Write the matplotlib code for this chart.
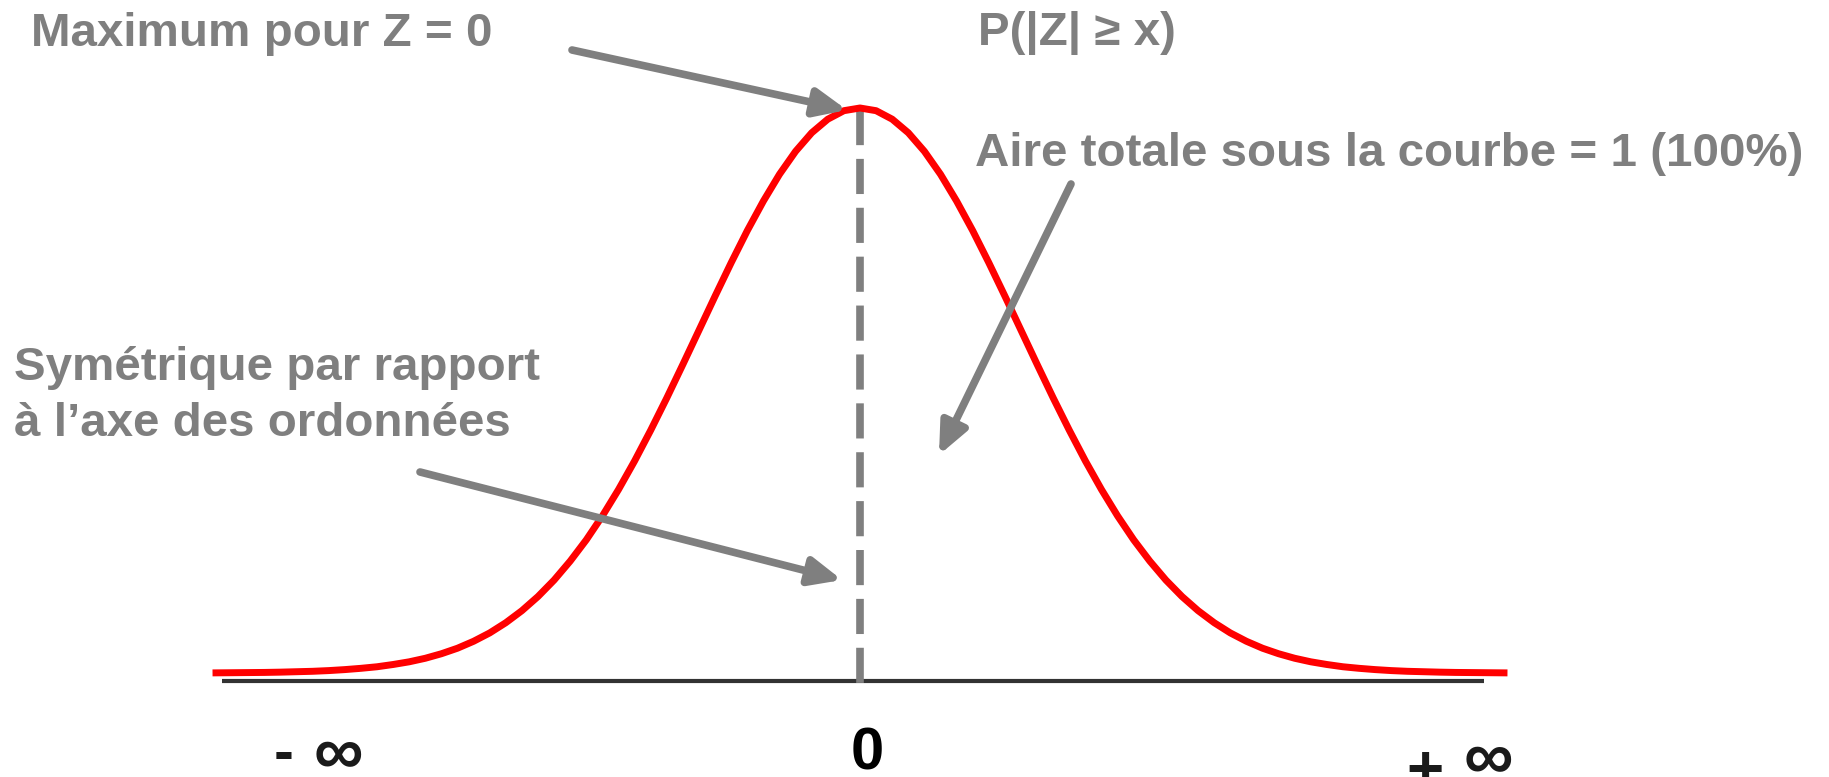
import matplotlib
matplotlib.use("Agg")
import matplotlib.pyplot as plt
import numpy as np

# ---- data (standard normal density, right half; curve is symmetric)
z_half = [0.0, 0.1, 0.2, 0.3, 0.4, 0.5, 0.6, 0.7, 0.8, 0.9, 1.0, 1.1, 1.2, 1.3, 1.4,
          1.5, 1.6, 1.7, 1.8, 1.9, 2.0, 2.1, 2.2, 2.3, 2.4, 2.5, 2.6, 2.7, 2.8, 2.9,
          3.0, 3.1, 3.2, 3.3, 3.4, 3.5, 3.6, 3.7, 3.8, 3.9, 4.0]
dens_half = [0.3989, 0.3970, 0.3910, 0.3814, 0.3683, 0.3521, 0.3332, 0.3123, 0.2897,
             0.2661, 0.2420, 0.2179, 0.1942, 0.1714, 0.1497, 0.1295, 0.1109, 0.0940,
             0.0790, 0.0656, 0.0540, 0.0440, 0.0355, 0.0283, 0.0224, 0.0175, 0.0136,
             0.0104, 0.0079, 0.0060, 0.0044, 0.0033, 0.0024, 0.0017, 0.0012, 0.0009,
             0.0006, 0.0004, 0.0003, 0.0002, 0.0001]
z_vals = [-v for v in z_half[:0:-1]] + z_half
dens_vals = dens_half[:0:-1] + dens_half

axis_labels = ["0"]
annotation_texts = ["Maximum pour Z = 0", "P(|Z| \u2265 x)",
                    "Aire totale sous la courbe = 1 (100%)",
                    "Sym\u00e9trique par rapport\n\u00e0 l\u2019axe des ordonn\u00e9es"]

# ---- layout
W, H = 1829, 777
DPI = 100
fig = plt.figure(figsize=(W / DPI, H / DPI), dpi=DPI)
fig.patch.set_facecolor("white")
ax = fig.add_axes([0, 0, 1, 1])
ax.set_axis_off()

x0_px, sig_px = 860, 161          # pixel of z=0, pixels per unit z
base_px, peak_px = 673, 108       # pixel rows (from top) of density 0 and of the peak
ypu = (base_px - peak_px) / max(dens_vals)
ax.set_xlim(-x0_px / sig_px, (W - x0_px) / sig_px)
ax.set_ylim(-(H - base_px) / ypu, base_px / ypu)


def fp(x, y):
    return (x / W, 1 - y / H)


GREY = "#7f7f7f"
FONT = "Liberation Sans"

# baseline axis
ax.plot([(222 - x0_px) / sig_px, (1484 - x0_px) / sig_px], [-8 / ypu, -8 / ypu],
        color="#333333", lw=3.0, solid_capstyle="butt", zorder=1)

# dashed vertical line at z = 0
ax.plot([0, 0], [(base_px - 110) / ypu, -(690 - base_px) / ypu], color=GREY,
        lw=5.5, dashes=(4.6, 1.8), solid_capstyle="butt", dash_capstyle="butt", zorder=2)

# density curve
ax.plot(z_vals, dens_vals, color="#ff0000", lw=5.0, zorder=3, solid_joinstyle="round")

# texts
fs = 34.2
fig.text(*fp(31, 46), annotation_texts[0], fontsize=fs, fontweight="bold",
         color=GREY, family=FONT, va="baseline", ha="left")
fig.text(*fp(978, 45), annotation_texts[1], fontsize=fs, fontweight="bold",
         color=GREY, family=FONT, va="baseline", ha="left")
fig.text(*fp(975, 166), annotation_texts[2], fontsize=fs, fontweight="bold",
         color=GREY, family=FONT, va="baseline", ha="left")
fig.text(*fp(14, 436), annotation_texts[3], fontsize=fs, fontweight="bold",
         color=GREY, family=FONT, va="baseline", ha="left", linespacing=1.34)

# bottom labels
fig.text(*fp(867, 770), axis_labels[0], fontsize=43, fontweight="bold",
         color="black", family=FONT, va="baseline", ha="center")
fig.text(*fp(284, 771), "-", fontsize=43, fontweight="bold",
         color="#1a1a1a", family=FONT, va="baseline", ha="center")
fig.text(*fp(338, 774), "\u221e", fontsize=50, fontweight="bold",
         color="#1a1a1a", family=FONT, va="baseline", ha="center")
fig.text(*fp(1425, 790), "+", fontsize=46, fontweight="bold",
         color="#1a1a1a", family=FONT, va="baseline", ha="center")
fig.text(*fp(1488, 779), "\u221e", fontsize=50, fontweight="bold",
         color="#1a1a1a", family=FONT, va="baseline", ha="center")

# arrows
arrows = [((572, 50), (847, 110)), ((1071, 184), (939, 455)), ((420, 472), (842, 580))]
for (sx, sy), (tx, ty) in arrows:
    ax.annotate("", xy=fp(tx, ty), xycoords="figure fraction",
                xytext=fp(sx, sy), textcoords="figure fraction",
                arrowprops=dict(arrowstyle="-|>,head_length=0.95,head_width=0.42",
                                mutation_scale=20, lw=5.5, color=GREY,
                                shrinkA=0, shrinkB=0), zorder=4)

fig.savefig("out.png", dpi=DPI, facecolor="white")
